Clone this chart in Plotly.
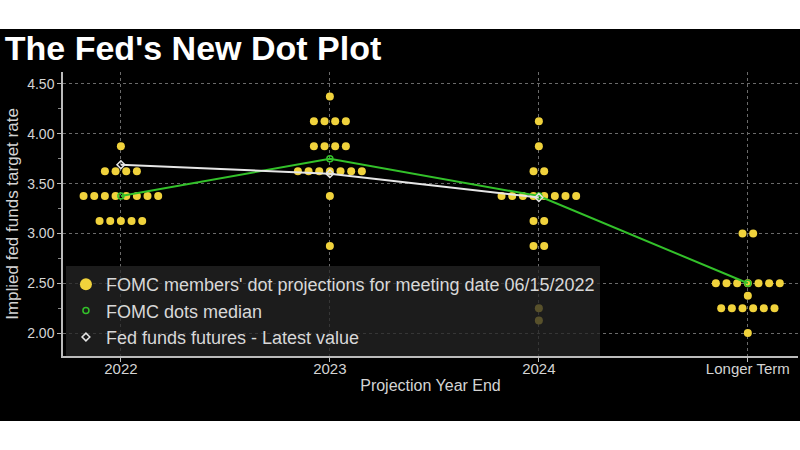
import plotly.graph_objects as go
from collections import Counter

categories = ["2022", "2023", "2024", "Longer Term"]

# one entry per FOMC participant dot
dots_2022 = [3.875,
             3.625, 3.625, 3.625, 3.625,
             3.375, 3.375, 3.375, 3.375, 3.375, 3.375, 3.375, 3.375,
             3.125, 3.125, 3.125, 3.125, 3.125]
dots_2023 = [4.375,
             4.125, 4.125, 4.125, 4.125,
             3.875, 3.875, 3.875, 3.875,
             3.625, 3.625, 3.625, 3.625, 3.625, 3.625, 3.625,
             3.375,
             2.875]
dots_2024 = [4.125,
             3.875,
             3.625, 3.625,
             3.375, 3.375, 3.375, 3.375, 3.375, 3.375, 3.375, 3.375,
             3.125, 3.125,
             2.875, 2.875,
             2.25,
             2.125]
dots_longer = [3.0, 3.0,
               2.5, 2.5, 2.5, 2.5, 2.5, 2.5, 2.5,
               2.375,
               2.25, 2.25, 2.25, 2.25, 2.25, 2.25,
               2.0]

median = [3.375, 3.75, 3.375, 2.5]
futures = [3.69, 3.60, 3.36]

all_dots = [dots_2022, dots_2023, dots_2024, dots_longer]

DOT = "#f0d23c"
GREEN = "#33c12a"
WHITE = "#e6e6e6"

# spread dots sideways within each row
step = 0.051
dx, dy = [], []
for i, vals in enumerate(all_dots):
    counts = Counter(vals)
    seen = Counter()
    for v in vals:
        n = counts[v]
        k = seen[v]
        seen[v] += 1
        dx.append(i + (k - (n - 1) / 2) * step)
        dy.append(v)

xpos = list(range(len(categories)))

fig = go.Figure()
fig.add_trace(go.Scatter(
    x=dx, y=dy, mode="markers", showlegend=False,
    marker=dict(size=8, color=DOT, line=dict(width=0))))
fig.add_trace(go.Scatter(
    x=xpos, y=median, mode="lines+markers", showlegend=False,
    line=dict(color=GREEN, width=2),
    marker=dict(size=6, symbol="circle-open", color=GREEN, line=dict(width=1.5))))
fig.add_trace(go.Scatter(
    x=xpos[:3], y=futures, mode="lines+markers", showlegend=False,
    line=dict(color=WHITE, width=2),
    marker=dict(size=6, symbol="diamond-open", color=WHITE, line=dict(width=1.5))))

# legend entries show only the symbol, like the original
fig.add_trace(go.Scatter(
    x=[None], y=[None], mode="markers",
    name="FOMC members' dot projections for meeting date 06/15/2022",
    marker=dict(size=12, color=DOT)))
fig.add_trace(go.Scatter(
    x=[None], y=[None], mode="markers", name="FOMC dots median",
    marker=dict(size=6, symbol="circle-open", color=GREEN, line=dict(width=1.5))))
fig.add_trace(go.Scatter(
    x=[None], y=[None], mode="markers", name="Fed funds futures - Latest value",
    marker=dict(size=6, symbol="diamond-open", color=WHITE, line=dict(width=1.5))))

grid = dict(showgrid=True, gridcolor="#6a6a6a", griddash="dot", gridwidth=1)

fig.update_layout(
    width=800, height=450,
    paper_bgcolor="black", plot_bgcolor="black",
    margin=dict(l=63, r=2, t=72, b=94),
    font=dict(family="Liberation Sans, Arial, sans-serif", color="#d4d4d4"),
    title=dict(text="<b>The Fed's New Dot Plot</b>", x=0.006, xanchor="left",
               y=0.893, yanchor="middle",
               font=dict(size=34, color="white")),
    xaxis=dict(range=[-0.277, 3.24], tickvals=xpos, ticktext=categories,
               ticks="outside", ticklen=4, tickcolor="#bbbbbb",
               ticklabelstandoff=-6,
               showline=True, linecolor="#bbbbbb", linewidth=2,
               zeroline=False, tickfont=dict(size=15),
               title=dict(text="Projection Year End", font=dict(size=16), standoff=4),
               **grid),
    yaxis=dict(range=[1.77, 4.62], tickvals=[2.0, 2.5, 3.0, 3.5, 4.0, 4.5],
               tickformat=".2f", ticks="outside", ticklen=4, tickcolor="#bbbbbb",
               minor=dict(dtick=0.25, ticks="outside", ticklen=3, tickcolor="#888888",
                          showgrid=False),
               showline=True, linecolor="#bbbbbb", linewidth=1.5,
               zeroline=False, tickfont=dict(size=14),
               title=dict(text="Implied fed funds target rate", font=dict(size=17), standoff=4),
               **grid),
    legend=dict(x=0.004, y=0.0, xanchor="left", yanchor="bottom",
                bgcolor="rgba(38,38,38,0.75)", borderwidth=0,
                font=dict(size=18, color="#d8d8d8"), tracegroupgap=0),
    shapes=[
        dict(type="rect", xref="paper", yref="paper", x0=-0.2, x1=1.2,
             y0=(356 - 29) / 284, y1=1.4, fillcolor="white", line=dict(width=0)),
        dict(type="rect", xref="paper", yref="paper", x0=-0.2, x1=1.2,
             y0=-0.45, y1=(356 - 421) / 284, fillcolor="white", line=dict(width=0)),
    ],
)

fig.write_html("out.html", config={"displayModeBar": False},
               post_script="document.body.style.margin='0';")
